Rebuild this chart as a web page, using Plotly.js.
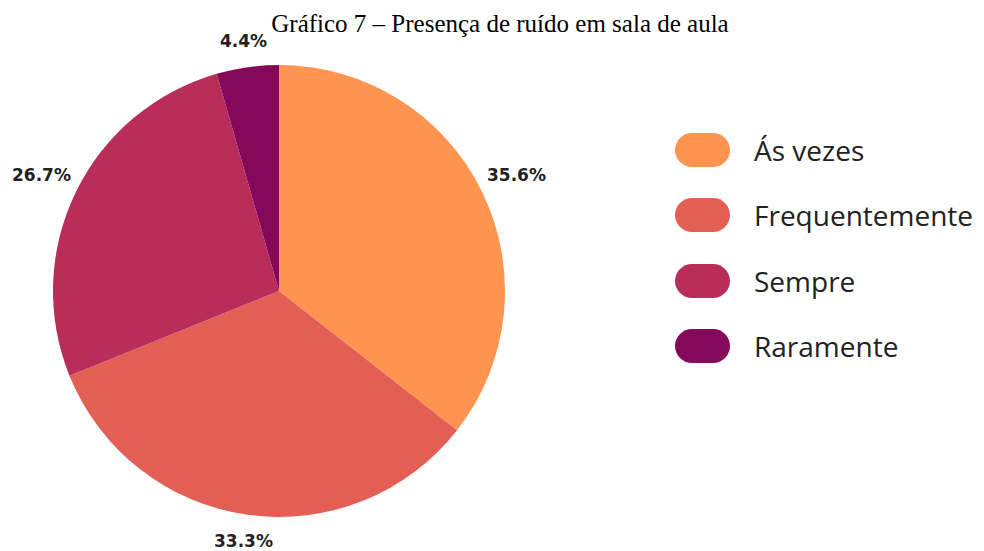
<!DOCTYPE html>
<html>
<head>
<meta charset="utf-8">
<script src="https://cdn.plot.ly/plotly-3.0.1.min.js"></script>
<style>html,body{margin:0;padding:0;background:#fff;}#chart{width:984px;height:551px;}</style>
</head>
<body>
<div id="chart"></div>
<script>
const categories = ["Ás vezes", "Frequentemente", "Sempre", "Raramente"];
const counts = [16, 15, 12, 2];
const colors = ["#FE9450", "#E35F56", "#B82D5A", "#86085B"];
const titleText = "Gráfico 7 – Presença de ruído em sala de aula";

const W = 984, H = 551;
const cx = 279, cy = 291, R = 226;

const trace = {
  type: "pie",
  labels: categories,
  values: counts,
  sort: false,
  direction: "clockwise",
  rotation: 0,
  marker: { colors: colors, line: { width: 0 } },
  textinfo: "none",
  hoverinfo: "label+percent",
  showlegend: false,
  domain: { x: [(cx - R) / W, (cx + R) / W], y: [(H - cy - R) / H, (H - cy + R) / H] }
};

const shapes = [];
const annotations = [];

// percentage labels outside each slice, at mid-angle
const total = counts.reduce((a, b) => a + b, 0);
let cum = 0;
counts.forEach((v, i) => {
  const frac = v / total;
  const mid = (cum + frac / 2) * 2 * Math.PI;
  cum += frac;
  const s = Math.sin(mid), c = Math.cos(mid);
  const d = R + 24 + 16 * Math.abs(s);
  const px = cx + s * d, py = cy - c * d;
  annotations.push({
    xref: "paper", yref: "paper", x: px / W, y: (H - py) / H,
    xanchor: "center", yanchor: "middle", showarrow: false,
    text: (frac * 100).toFixed(1) + "%",
    font: { family: "DejaVu Sans, sans-serif", size: 17, color: "#222222", weight: "bold" }
  });
});

// custom legend
const legY = [150, 215, 281, 346];
const pw = 55, ph = 34, r = 17;
const pill = (function(){
  const hw = pw/2, hh = ph/2, k = 0.5523*r;
  const x0 = -hw, x1 = hw, y0 = -hh, y1 = hh;
  return `M ${x0+r},${y0} L ${x1-r},${y0} C ${x1-r+k},${y0} ${x1},${y0+r-k} ${x1},${y0+r} ` +
         `L ${x1},${y1-r} C ${x1},${y1-r+k} ${x1-r+k},${y1} ${x1-r},${y1} ` +
         `L ${x0+r},${y1} C ${x0+r-k},${y1} ${x0},${y1-r+k} ${x0},${y1-r} ` +
         `L ${x0},${y0+r} C ${x0},${y0+r-k} ${x0+r-k},${y0} ${x0+r},${y0} Z`;
})();
categories.forEach((c, i) => {
  shapes.push({
    type: "path", xref: "paper", yref: "paper",
    xsizemode: "pixel", ysizemode: "pixel",
    xanchor: 702.5 / W, yanchor: (H - legY[i]) / H,
    path: pill, fillcolor: colors[i], line: { width: 0 }
  });
  annotations.push({
    xref: "paper", yref: "paper", x: 752 / W, y: (H - legY[i]) / H,
    xanchor: "left", yanchor: "middle", showarrow: false, text: c,
    font: { family: "Open Sans, Noto Sans, sans-serif", size: 28, color: "#222222" }
  });
});

const layout = {
  width: W, height: H,
  margin: { l: 0, r: 0, t: 0, b: 0 },
  paper_bgcolor: "#ffffff",
  title: {
    text: titleText, x: 500 / W, xanchor: "center", y: (H - 23) / H, yanchor: "middle",
    font: { family: "Liberation Serif, Times New Roman, serif", size: 25, color: "#000000" }
  },
  showlegend: false,
  shapes: shapes,
  annotations: annotations
};

Plotly.newPlot("chart", [trace], layout, { displayModeBar: false, staticPlot: true });
</script>
</body>
</html>
